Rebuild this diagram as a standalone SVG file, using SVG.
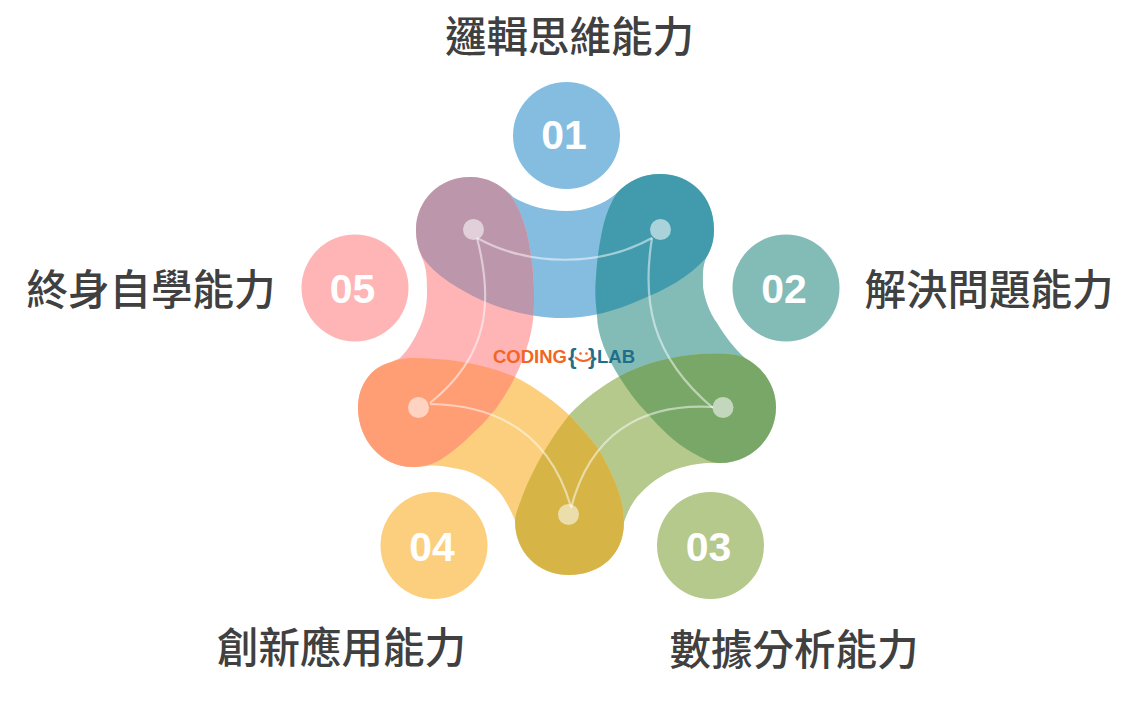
<svg xmlns="http://www.w3.org/2000/svg" width="1140" height="702" viewBox="0 0 1140 702">
<style>
.lbl{font-family:"Noto Sans CJK TC","Noto Sans CJK SC",sans-serif;font-size:41.5px;font-weight:500;fill:#404040;text-anchor:middle}
.num{font-family:"Liberation Sans",Arial,sans-serif;font-size:41px;font-weight:700;fill:#fff;text-anchor:middle}
.logo{font-family:"Liberation Sans",Arial,sans-serif;font-size:18.500px;font-weight:700}
.brace{font-family:"Liberation Sans",Arial,sans-serif;font-size:22px;font-weight:700;fill:#1F6E8C}
.link{fill:none;stroke:#fff;stroke-opacity:.5;stroke-width:2.200}
.dot{fill:#fff;fill-opacity:.55}
</style>
<defs>
<path id="s1" d="M470 177C490 177 503 187 513 197C528 206 547 211 566 211C585 211 603 205 617 193C628 181 643 174 660 174C691 174 714 197 714 229C714 242 711 250 706 258C689 277 665 290 640 300C615 311 590 318 563 318C535 318 508 311 486 302C461 291 436 276 423 258C418 249 416 240 416 230C416 200 440 177 470 177Z"/>
<path id="s2" d="M660 174C691 174 714 197 714 229C714 242 711 250 706 258C702 268 703 278 703 287C705 301 710 313 717 323C724 335 735 349 745 358C764 368 776 387 776 407C776 438 751 463 720 463C711 463 702 458 693 453C675 443 660 428 647 413C636 402 627 389 620 378C607 358 597 335 597 315C595 298 595 288 596 277C597 258 600 240 603 227C606 214 611 202 617 193C628 181 643 174 660 174Z"/>
<path id="s3" d="M700 354C718 353 735 353 745 358C764 368 776 387 776 407C776 438 751 463 720 463C714 463 710 463 707 463C692 464 680 467 667 473C654 480 645 488 637 497C630 506 627 514 624 522C624 555 600 575 569 575C538 575 515 552 515 522C515 515 518 508 521 500C530 475 548 441 570 414C585 398 601 387 618 377C644 363 672 356 700 354Z"/>
<path id="s4" d="M412 358C428 358 445 359 462 362C481 365 499 370 515 377C533 386 553 400 568 414C581 427 590 438 597 447C606 461 612 474 617 487C621 498 624 510 624 522C624 555 600 575 569 575C538 575 515 552 515 520C511 511 508 505 503 497C498 489 490 483 480 477C472 472 462 469 453 468C444 466 435 465 427 466C422 467 417 467 412 467C382 467 358 440 358 408C358 388 368 372 383 365C392 361 402 358 412 358Z"/>
<path id="s5" d="M470 177C490 177 503 187 510 195C519 206 523 220 527 233C531 253 534 272 534 293C534 306 534 316 532 327C529 344 523 361 515 377C510 387 504 397 497 407C489 417 481 426 473 433C462 444 451 453 440 460C431 465 421 467 412 467C382 467 358 440 358 408C358 388 368 372 383 365C389 363 395 361 400 358C409 349 415 338 420 327C425 316 427 304 427 293C427 280 427 270 423 260C418 250 416 240 416 230C416 200 440 177 470 177Z"/>
<clipPath id="c1"><use href="#s1"/></clipPath>
<clipPath id="c2"><use href="#s2"/></clipPath>
<clipPath id="c3"><use href="#s3"/></clipPath>
<clipPath id="c4"><use href="#s4"/></clipPath>
</defs>
<g id="bands">
<use href="#s1" fill="#84BDE0"/>
<use href="#s2" fill="#83BBB7"/>
<use href="#s3" fill="#B4C98B"/>
<use href="#s4" fill="#FBCF7D"/>
<use href="#s5" fill="#FFB4B6"/>
<use href="#s2" fill="#429BAD" clip-path="url(#c1)"/>
<use href="#s3" fill="#79A768" clip-path="url(#c2)"/>
<use href="#s4" fill="#D6B546" clip-path="url(#c3)"/>
<use href="#s5" fill="#FF9E75" clip-path="url(#c4)"/>
<use href="#s5" fill="#BC96AB" clip-path="url(#c1)"/>
</g>
<g id="connectors">
<path class="link" d="M477 238C530 267 600 267 652 238"/>
<path class="link" d="M652 238C642 300 650 355 713 408"/>
<path class="link" d="M713 407C640 403 590 435 571 508"/>
<path class="link" d="M571 507C550 435 500 405 430 404"/>
<path class="link" d="M430 403C490 355 493 300 477 238"/>
</g>
<g id="hub-dots">
<circle class="dot" cx="473.500" cy="229.500" r="10.500"/>
<circle class="dot" cx="660.500" cy="229.500" r="10.500"/>
<circle class="dot" cx="723" cy="407.500" r="10.500"/>
<circle class="dot" cx="568.500" cy="514.500" r="10.500"/>
<circle class="dot" cx="418.500" cy="407.500" r="10.500"/>
</g>
<g id="node-01"><circle cx="566.500" cy="135.500" r="53.500" fill="#84BDE0"/><text class="num" x="564" y="149">01</text><text class="lbl" x="569.500" y="52">邏輯思維能力</text></g>
<g id="node-02"><circle cx="786" cy="288" r="53.500" fill="#83BBB7"/><text class="num" x="784" y="303">02</text><text class="lbl" x="989" y="305">解決問題能力</text></g>
<g id="node-03"><circle cx="710.500" cy="545.500" r="53.500" fill="#B4C98B"/><text class="num" x="708.500" y="561">03</text><text class="lbl" x="794" y="665">數據分析能力</text></g>
<g id="node-04"><circle cx="434" cy="545.500" r="53.500" fill="#FBCF7D"/><text class="num" x="432" y="561">04</text><text class="lbl" x="341.500" y="663">創新應用能力</text></g>
<g id="node-05"><circle cx="355" cy="288" r="53.500" fill="#FFB4B6"/><text class="num" x="352.500" y="303">05</text><text class="lbl" x="151" y="305">終身自學能力</text></g>
<g id="logo">
<text class="logo" x="493" y="363" fill="#F26522">CODING</text>
<text class="logo" x="597" y="363" fill="#1F6E8C">LAB</text>
<text class="brace" x="568" y="364">{</text>
<text class="brace" x="588" y="364">}</text>
<circle cx="580.500" cy="353.500" r="1.300" fill="#F26522"/><circle cx="586.500" cy="353.500" r="1.300" fill="#F26522"/>
<path d="M575 357Q583.500 365 592 357" fill="none" stroke="#F26522" stroke-width="1.800"/>
</g>
</svg>
